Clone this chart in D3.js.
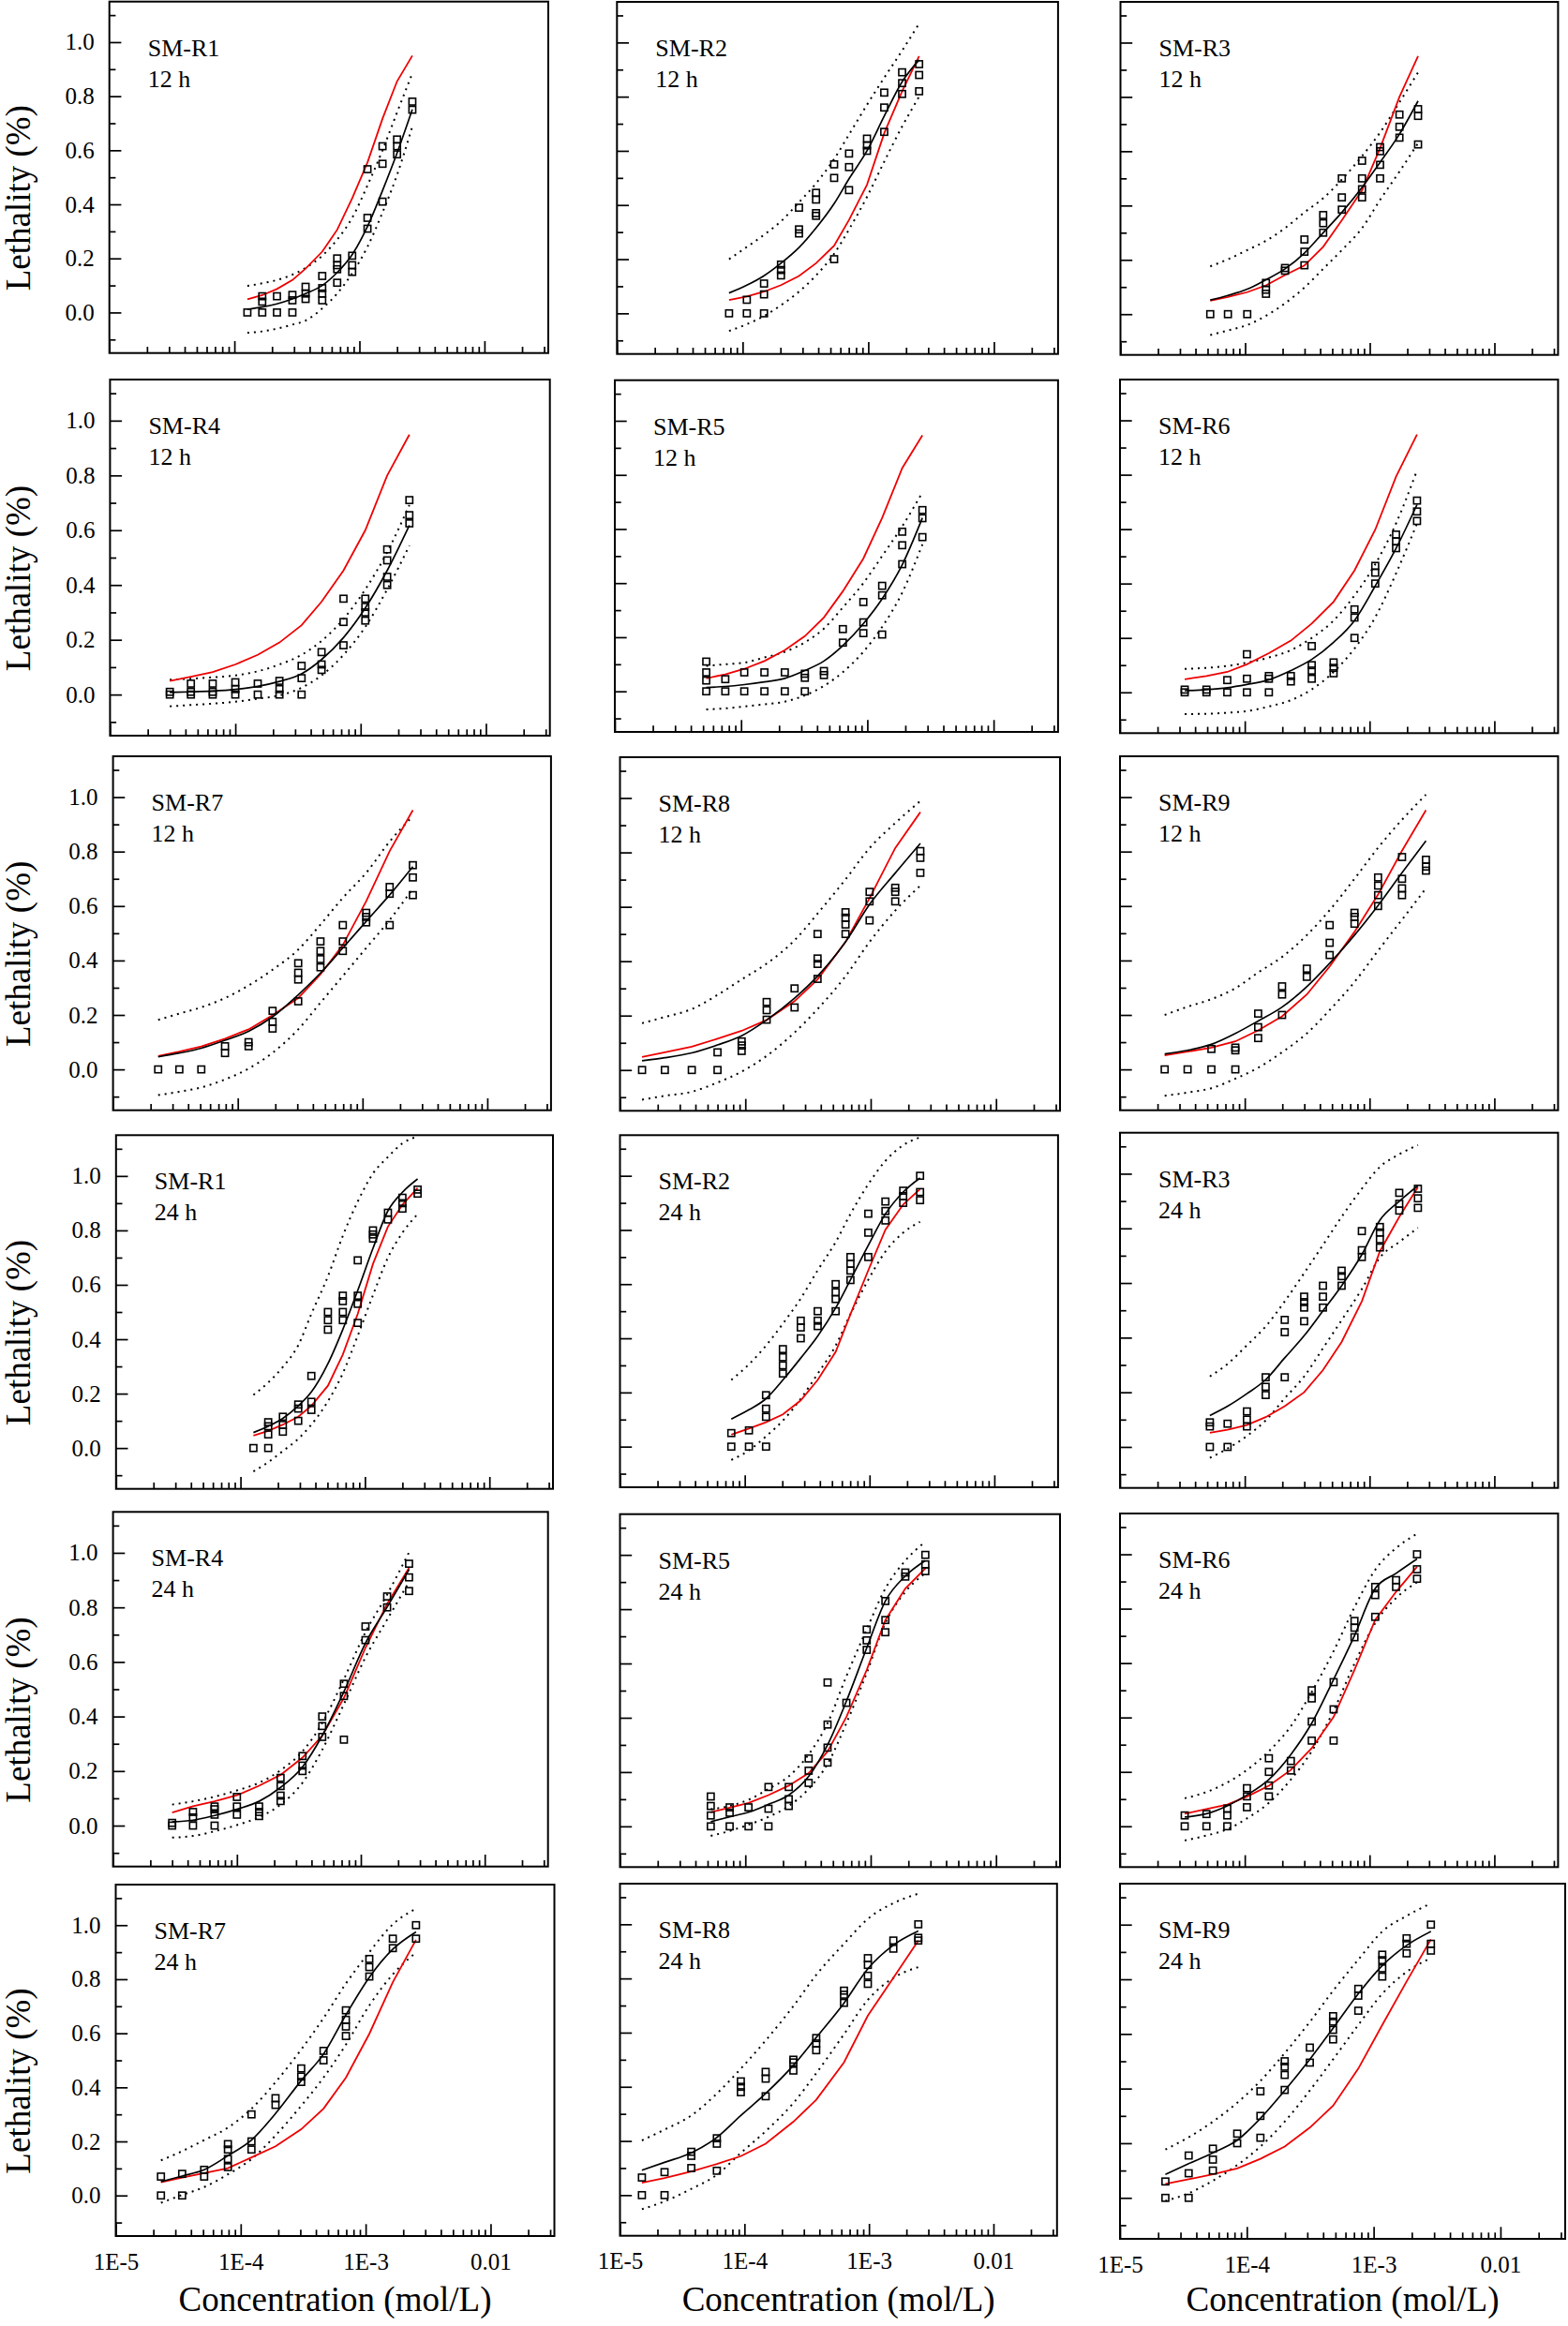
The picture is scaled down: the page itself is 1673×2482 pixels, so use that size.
<!DOCTYPE html>
<html><head><meta charset="utf-8">
<script src="https://cdn.jsdelivr.net/npm/d3@7"></script>
<style>html,body{margin:0;padding:0;background:#fff;} svg{display:block}</style>
</head><body>
<svg id="chart" width="1673" height="2482"></svg>
<script>
// ---------- concentrations (mol/L) for each mixture ----------
const conc_R1 = [1.27e-4,1.67e-4,2.19e-4,2.91e-4,3.71e-4,5.04e-4,6.64e-4,8.75e-4,1.16e-3,1.53e-3,2.0e-3,2.65e-3];
const conc_R2 = [7.8e-5,1.08e-4,1.48e-4,2.02e-4,2.81e-4,3.84e-4,5.35e-4,7.03e-4,9.77e-4,1.34e-3,1.86e-3,2.54e-3];
const conc_R3 = [5.25e-5,7.28e-5,1.04e-4,1.47e-4,2.09e-4,2.99e-4,4.23e-4,5.97e-4,8.67e-4,1.21e-3,1.73e-3,2.44e-3];
const conc_R4 = [3.0e-5,4.42e-5,6.6e-5,1.0e-4,1.51e-4,2.25e-4,3.38e-4,4.88e-4,7.3e-4,1.09e-3,1.63e-3,2.45e-3];
const conc_R5 = [5.3e-5,7.5e-5,1.06e-4,1.53e-4,2.22e-4,3.2e-4,4.53e-4,6.4e-4,9.3e-4,1.31e-3,1.89e-3,2.73e-3];
const conc_R6 = [3.3e-5,4.93e-5,7.24e-5,1.04e-4,1.56e-4,2.34e-4,3.44e-4,5.15e-4,7.57e-4,1.11e-3,1.63e-3,2.40e-3];
const conc_R7 = [2.3e-5,3.4e-5,5.1e-5,7.9e-5,1.22e-4,1.9e-4,3.05e-4,4.6e-4,6.95e-4,1.07e-3,1.65e-3,2.53e-3];
const conc_R8 = [1.5e-5,2.28e-5,3.74e-5,6.0e-5,9.35e-5,1.48e-4,2.47e-4,3.77e-4,6.3e-4,9.8e-4,1.57e-3,2.49e-3];
const conc_R9 = [2.28e-5,3.48e-5,5.4e-5,8.4e-5,1.28e-4,1.99e-4,3.14e-4,4.79e-4,7.57e-4,1.17e-3,1.82e-3,2.83e-3];

// ---------- panel names ----------
const panelMix  = ["R1","R2","R3","R4","R5","R6","R7","R8","R9","R1","R2","R3","R4","R5","R6","R7","R8","R9"];
const panelTime = ["12 h","12 h","12 h","12 h","12 h","12 h","12 h","12 h","12 h","24 h","24 h","24 h","24 h","24 h","24 h","24 h","24 h","24 h"];

// ---------- observed lethality (per concentration) ----------
const obs_R1_12 = [[0],[0,0.04,0.06],[0,0.06],[0,0.045,0.065],[0.05,0.07,0.095],[0.045,0.07,0.09,0.135],[0.11,0.16,0.175,0.2],[0.15,0.175,0.21],[0.31,0.35,0.53],[0.41,0.55,0.615],[0.585,0.615,0.64],[0.75,0.78]];
const obs_R2_12 = [[0],[0,0.05],[0,0.07,0.11],[0.14,0.16,0.18],[0.295,0.31,0.39],[0.36,0.37,0.42,0.445],[0.2,0.5,0.55],[0.455,0.54,0.59],[0.6,0.62,0.645],[0.67,0.76,0.815],[0.81,0.85,0.89],[0.82,0.88,0.92]];
const obs_R3_12 = [[0],[0],[0],[0.075,0.09,0.115],[0.16,0.17],[0.18,0.23,0.275],[0.3,0.335,0.365],[0.385,0.43,0.5],[0.43,0.46,0.5,0.565],[0.5,0.55,0.6,0.615],[0.65,0.69,0.735],[0.625,0.73,0.755]];
const obs_R4_12 = [[0,0.01],[0,0.01,0.04],[0,0.01,0.04],[0,0.02,0.045],[0,0.04],[0,0.02,0.05],[0,0.06,0.105],[0.09,0.11,0.155],[0.18,0.265,0.35],[0.27,0.3,0.32,0.35],[0.4,0.43,0.49,0.53],[0.625,0.655,0.71]];
const obs_R5_12 = [[0,0.04,0.07,0.11],[0,0.045],[0,0.07],[0,0.07],[0,0.07],[0,0.05,0.065],[0.06,0.075],[0.18,0.23],[0.215,0.255,0.33],[0.21,0.355,0.39],[0.47,0.54,0.59],[0.57,0.64,0.67]];
const obs_R6_12 = [[0,0.01],[0,0.01],[0,0.045],[0,0.05,0.14],[0,0.05,0.06],[0.04,0.06],[0.05,0.08,0.1,0.17],[0.07,0.09,0.11],[0.2,0.275,0.305],[0.4,0.44,0.465],[0.53,0.555,0.58],[0.63,0.665,0.705]];
const obs_R7_12 = [[0],[0],[0],[0.06,0.085],[0.085,0.1],[0.15,0.175,0.215],[0.25,0.33,0.355,0.39],[0.375,0.405,0.435,0.47],[0.435,0.47,0.53],[0.54,0.56,0.575],[0.53,0.645,0.67],[0.64,0.705,0.75]];
const obs_R8_12 = [[0],[0],[0],[0,0.065],[0.07,0.09,0.105],[0.185,0.22,0.25],[0.23,0.3],[0.335,0.39,0.41,0.5],[0.5,0.535,0.56,0.58],[0.55,0.62,0.655],[0.62,0.655,0.67],[0.725,0.78,0.805]];
const obs_R9_12 = [[0],[0],[0,0.075],[0,0.07,0.08],[0.115,0.155,0.205],[0.2,0.275,0.305],[0.34,0.37],[0.42,0.465,0.53],[0.535,0.56,0.575],[0.6,0.64,0.675,0.705],[0.64,0.665,0.7,0.78],[0.73,0.745,0.77]];
const obs_R1_24 = [[0],[0,0.05,0.08,0.095],[0.06,0.085,0.115],[0.1,0.145,0.16],[0.14,0.17,0.265],[0.435,0.47,0.5],[0.47,0.5,0.54,0.56],[0.46,0.53,0.56,0.69],[0.77,0.785,0.8],[0.84,0.865],[0.88,0.9,0.92],[0.935,0.95]];
const obs_R2_24 = [[0,0.05],[0,0.06],[0,0.11,0.14,0.19],[0.27,0.3,0.33,0.36],[0.4,0.44,0.465],[0.445,0.465,0.5],[0.5,0.545,0.57,0.6],[0.615,0.65,0.675,0.7],[0.7,0.79,0.86],[0.835,0.87,0.905],[0.9,0.925,0.945],[0.91,0.94,1.0]];
const obs_R3_24 = [[0,0.075,0.09],[0,0.085],[0.075,0.1,0.13],[0.19,0.22,0.255],[0.255,0.42,0.465],[0.46,0.51,0.53,0.55],[0.51,0.55,0.59],[0.59,0.625,0.645],[0.695,0.72,0.79],[0.73,0.76,0.785,0.805],[0.865,0.89,0.93],[0.875,0.91,0.945]];
const obs_R4_24 = [[0,0.01],[0,0.03,0.05],[0,0.04,0.06,0.07],[0.04,0.07,0.105],[0.035,0.05,0.07],[0.09,0.11,0.145,0.175],[0.2,0.22,0.255],[0.325,0.365,0.4],[0.315,0.475,0.52],[0.68,0.73],[0.8,0.84],[0.86,0.91,0.96]];
const obs_R5_24 = [[0,0.04,0.075,0.11],[0,0.05,0.07],[0,0.07],[0,0.065,0.145],[0.075,0.1,0.145],[0.16,0.205,0.25],[0.235,0.29,0.375,0.53],[0.455],[0.65,0.685,0.725],[0.715,0.76,0.83],[0.92,0.935],[0.94,0.965,1.0]];
const obs_R6_24 = [[0,0.04],[0,0.045],[0,0.04,0.065],[0.07,0.11,0.14],[0.11,0.15,0.2,0.25],[0.205,0.24],[0.315,0.385,0.47,0.5],[0.315,0.43,0.53],[0.695,0.73,0.755],[0.77,0.85,0.88],[0.88,0.905],[0.91,0.945,1.0]];
const obs_R7_24 = [[0,0.07],[0,0.08],[0.07,0.095],[0.105,0.135,0.17,0.19],[0.17,0.2,0.3],[0.335,0.36],[0.42,0.44,0.47],[0.5,0.535],[0.59,0.625,0.65,0.685],[0.81,0.845,0.875],[0.915,0.95],[0.95,1.0]];
const obs_R8_24 = [[0,0.065],[0,0.085],[0.1,0.145,0.16],[0.09,0.19,0.21],[0.38,0.4,0.42],[0.365,0.43,0.455],[0.46,0.49,0.5],[0.535,0.56,0.58],[0.71,0.74,0.755],[0.78,0.81,0.85,0.875],[0.91,0.94],[0.94,0.95,1.0]];
const obs_R9_24 = [[0,0.06],[0,0.09,0.155],[0.1,0.14,0.18],[0.2,0.235],[0.22,0.3,0.39],[0.395,0.45,0.48,0.5],[0.495,0.55],[0.58,0.615,0.645,0.665],[0.685,0.74,0.765],[0.81,0.84,0.87,0.89],[0.895,0.93,0.95],[0.905,0.93,1.0]];

// ---------- fitted curve (black) ----------
const fit_R1_12 = [0.012,0.02,0.032,0.05,0.07,0.10,0.148,0.214,0.318,0.451,0.59,0.751];
const fit_R2_12 = [0.075,0.104,0.139,0.185,0.243,0.315,0.405,0.497,0.60,0.728,0.855,0.936];
const fit_R3_12 = [0.052,0.069,0.092,0.127,0.167,0.225,0.3,0.375,0.467,0.559,0.663,0.785];
const fit_R4_12 = [0.008,0.01,0.013,0.019,0.03,0.048,0.076,0.128,0.208,0.316,0.453,0.618];
const fit_R5_12 = [0.014,0.018,0.025,0.035,0.048,0.077,0.112,0.169,0.25,0.342,0.468,0.641];
const fit_R6_12 = [0.006,0.01,0.017,0.029,0.046,0.08,0.121,0.184,0.264,0.391,0.529,0.69];
const fit_R7_12 = [0.046,0.06,0.078,0.107,0.14,0.193,0.274,0.354,0.446,0.544,0.641,0.745];
const fit_R8_12 = [0.034,0.045,0.063,0.092,0.126,0.184,0.264,0.345,0.471,0.609,0.724,0.833];
const fit_R9_12 = [0.057,0.07,0.092,0.132,0.178,0.229,0.304,0.39,0.493,0.602,0.722,0.839];
const fit_R1_24 = [0.057,0.08,0.109,0.155,0.206,0.31,0.436,0.579,0.734,0.872,0.94,0.989];
const fit_R2_24 = [0.102,0.136,0.177,0.246,0.327,0.408,0.512,0.616,0.743,0.859,0.94,0.992];
const fit_R3_24 = [0.115,0.149,0.195,0.246,0.326,0.407,0.498,0.59,0.704,0.83,0.899,0.956];
const fit_R4_24 = [0.014,0.02,0.037,0.06,0.089,0.14,0.215,0.33,0.491,0.669,0.801,0.939];
const fit_R5_24 = [0.017,0.035,0.052,0.081,0.115,0.184,0.3,0.461,0.657,0.83,0.922,0.979];
const fit_R6_24 = [0.034,0.046,0.075,0.115,0.172,0.264,0.379,0.54,0.701,0.874,0.93,0.983];
const fit_R7_24 = [0.051,0.072,0.095,0.147,0.205,0.303,0.425,0.523,0.668,0.807,0.911,0.975];
const fit_R8_24 = [0.092,0.121,0.156,0.213,0.294,0.375,0.479,0.582,0.709,0.836,0.923,0.975];
const fit_R9_24 = [0.086,0.125,0.165,0.211,0.291,0.393,0.507,0.621,0.747,0.85,0.924,0.975];

// ---------- upper confidence band (dotted) ----------
const upr_R1_12 = [0.098,0.108,0.12,0.14,0.165,0.21,0.27,0.35,0.47,0.6,0.74,0.885];
const upr_R2_12 = [0.2,0.245,0.29,0.34,0.41,0.48,0.57,0.66,0.77,0.87,0.97,1.07];
const upr_R3_12 = [0.176,0.202,0.236,0.27,0.317,0.375,0.427,0.496,0.582,0.669,0.78,0.89];
const upr_R4_12 = [0.054,0.058,0.063,0.07,0.085,0.11,0.145,0.196,0.276,0.384,0.52,0.692];
const upr_R5_12 = [0.094,0.1,0.106,0.125,0.146,0.181,0.232,0.31,0.40,0.5,0.61,0.735];
const upr_R6_12 = [0.086,0.09,0.097,0.109,0.128,0.155,0.2,0.264,0.356,0.471,0.621,0.816];
const upr_R7_12 = [0.182,0.205,0.228,0.262,0.308,0.366,0.44,0.532,0.63,0.722,0.837,0.93];
const upr_R8_12 = [0.172,0.195,0.224,0.276,0.333,0.391,0.477,0.575,0.701,0.816,0.908,0.989];
const upr_R9_12 = [0.2,0.23,0.258,0.298,0.356,0.413,0.493,0.585,0.7,0.814,0.917,1.009];
const upr_R1_24 = [0.195,0.241,0.298,0.378,0.493,0.631,0.78,0.906,1.009,1.07,1.12,1.145];
const upr_R2_24 = [0.246,0.304,0.373,0.454,0.547,0.651,0.755,0.859,0.969,1.055,1.113,1.142];
const upr_R3_24 = [0.258,0.304,0.372,0.441,0.533,0.636,0.739,0.842,0.945,1.025,1.071,1.105];
const upr_R4_24 = [0.077,0.089,0.106,0.129,0.157,0.203,0.272,0.376,0.537,0.709,0.847,1.002];
const upr_R5_24 = [0.063,0.075,0.098,0.138,0.184,0.265,0.38,0.553,0.726,0.876,0.979,1.048];
const upr_R6_24 = [0.103,0.126,0.161,0.207,0.276,0.368,0.494,0.644,0.805,0.943,1.023,1.075];
const upr_R7_24 = [0.13,0.164,0.205,0.251,0.321,0.419,0.54,0.656,0.784,0.9,1.003,1.061];
const upr_R8_24 = [0.202,0.242,0.294,0.375,0.467,0.571,0.698,0.813,0.928,1.02,1.078,1.113];
const upr_R9_24 = [0.177,0.222,0.279,0.348,0.428,0.53,0.644,0.758,0.872,0.975,1.032,1.078];

// ---------- lower confidence band (dotted) ----------
const lwr_R1_12 = [-0.075,-0.07,-0.06,-0.045,-0.03,0.015,0.07,0.145,0.243,0.37,0.509,0.688];
const lwr_R2_12 = [-0.065,-0.04,-0.01,0.03,0.08,0.14,0.22,0.31,0.43,0.56,0.69,0.80];
const lwr_R3_12 = [-0.077,-0.06,-0.04,-0.006,0.04,0.098,0.167,0.236,0.317,0.421,0.525,0.63];
const lwr_R4_12 = [-0.043,-0.038,-0.033,-0.026,-0.015,-0.003,0.025,0.07,0.145,0.247,0.384,0.544];
const lwr_R5_12 = [-0.067,-0.063,-0.056,-0.048,-0.038,-0.015,0.02,0.071,0.146,0.238,0.365,0.543];
const lwr_R6_12 = [-0.08,-0.079,-0.075,-0.069,-0.052,-0.029,0.011,0.075,0.161,0.276,0.437,0.621];
const lwr_R7_12 = [-0.094,-0.082,-0.066,-0.037,0.003,0.061,0.147,0.245,0.343,0.446,0.549,0.664];
const lwr_R8_12 = [-0.109,-0.095,-0.08,-0.046,-0.006,0.052,0.138,0.224,0.345,0.471,0.586,0.678];
const lwr_R9_12 = [-0.097,-0.085,-0.069,-0.034,0.006,0.063,0.132,0.218,0.321,0.436,0.55,0.665];
const lwr_R1_24 = [-0.086,-0.052,-0.011,0.034,0.086,0.172,0.275,0.413,0.562,0.7,0.791,0.86];
const lwr_R2_24 = [-0.049,-0.014,0.038,0.096,0.177,0.269,0.373,0.489,0.616,0.72,0.79,0.83];
const lwr_R3_24 = [-0.04,-0.006,0.04,0.097,0.178,0.258,0.361,0.464,0.578,0.693,0.75,0.802];
const lwr_R4_24 = [-0.044,-0.038,-0.021,0.002,0.031,0.077,0.157,0.278,0.445,0.617,0.755,0.893];
const lwr_R5_24 = [-0.035,-0.017,0.006,0.035,0.075,0.138,0.23,0.38,0.565,0.749,0.864,0.933];
const lwr_R6_24 = [-0.052,-0.034,-0.011,0.029,0.086,0.172,0.276,0.425,0.598,0.747,0.839,0.897];
const lwr_R7_24 = [-0.027,0.002,0.031,0.078,0.135,0.222,0.332,0.436,0.558,0.703,0.818,0.899];
const lwr_R8_24 = [-0.052,-0.023,0.023,0.075,0.156,0.236,0.34,0.45,0.594,0.721,0.802,0.842];
const lwr_R9_24 = [-0.011,0.017,0.063,0.12,0.188,0.279,0.393,0.507,0.633,0.747,0.827,0.878];

// ---------- predicted curve (red) ----------
const ref_R1_12 = [0.049,0.064,0.087,0.12,0.162,0.225,0.306,0.422,0.555,0.717,0.855,0.95];
const ref_R2_12 = [0.049,0.062,0.08,0.104,0.138,0.185,0.25,0.345,0.475,0.665,0.82,0.95];
const ref_R3_12 = [0.05,0.063,0.081,0.106,0.144,0.179,0.248,0.346,0.456,0.611,0.80,0.95];
const ref_R4_12 = [0.05,0.065,0.082,0.11,0.145,0.19,0.253,0.339,0.453,0.6,0.8,0.949];
const ref_R5_12 = [0.048,0.063,0.083,0.112,0.152,0.204,0.273,0.37,0.491,0.641,0.825,0.946];
const ref_R6_12 = [0.048,0.06,0.075,0.103,0.144,0.19,0.253,0.333,0.448,0.598,0.793,0.948];
const ref_R7_12 = [0.049,0.065,0.084,0.113,0.147,0.199,0.262,0.349,0.457,0.618,0.802,0.952];
const ref_R8_12 = [0.048,0.065,0.086,0.115,0.144,0.184,0.253,0.333,0.471,0.632,0.816,0.948];
const ref_R9_12 = [0.052,0.065,0.08,0.103,0.143,0.195,0.275,0.378,0.505,0.642,0.803,0.952];
const ref_R1_24 = [0.046,0.063,0.086,0.115,0.155,0.229,0.344,0.493,0.677,0.814,0.894,0.956];
const ref_R2_24 = [0.044,0.067,0.09,0.119,0.171,0.246,0.35,0.489,0.651,0.801,0.894,0.951];
const ref_R3_24 = [0.052,0.063,0.08,0.109,0.149,0.2,0.281,0.384,0.533,0.716,0.842,0.951];
const ref_R4_24 = [0.048,0.071,0.089,0.111,0.146,0.186,0.249,0.33,0.468,0.652,0.813,0.945];
const ref_R5_24 = [0.052,0.069,0.086,0.115,0.15,0.196,0.276,0.403,0.576,0.76,0.876,0.95];
const ref_R6_24 = [0.046,0.063,0.08,0.109,0.149,0.207,0.287,0.402,0.575,0.759,0.862,0.954];
const ref_R7_24 = [0.049,0.066,0.083,0.101,0.141,0.182,0.245,0.321,0.436,0.598,0.789,0.946];
const ref_R8_24 = [0.046,0.063,0.087,0.115,0.144,0.19,0.271,0.352,0.49,0.663,0.802,0.94];
const ref_R9_24 = [0.051,0.068,0.086,0.108,0.143,0.188,0.257,0.337,0.473,0.633,0.792,0.946];

// ---------- axes ----------
const xMajorTicks = [1e-5,1e-4,1e-3,1e-2];
const xTickLabels = ["1E-5","1E-4","1E-3","0.01"];
const xMinorTicks = [2e-5,3e-5,4e-5,5e-5,6e-5,7e-5,8e-5,9e-5,2e-4,3e-4,4e-4,5e-4,6e-4,7e-4,8e-4,9e-4,2e-3,3e-3,4e-3,5e-3,6e-3,7e-3,8e-3,9e-3,2e-2,3e-2];
const yMajorTicks = [0,0.2,0.4,0.6,0.8,1.0];
const yMinorTicks = [-0.1,0.1,0.3,0.5,0.7,0.9,1.1];
const xDomain = [1e-5, 0.0324];
const yDomain = [-0.15, 1.15];
const xTitle = "Concentration (mol/L)";
const yTitle = "Lethality (%)";

// ---------- layout (panel frames: left, right, top, bottom) ----------
const frames = [
  [116.7,585,1.7,376.7],[658.3,1128.9,2,377.7],[1195.5,1662.4,2,378.7],
  [117.4,586.7,405,785],[656,1128.9,405.7,781],[1195,1662.4,405,782.3],
  [120.6,587.9,807,1184.7],[661.5,1131,808,1185.3],[1195,1662.4,807,1184.7],
  [123.8,590,1211.3,1588.7],[661.5,1128.9,1211.3,1587],[1195,1662.4,1208.7,1587.7],
  [120.6,584.7,1613.3,1991.7],[661.5,1131,1615.7,1992.3],[1195,1662.4,1615,1992.3],
  [123.5,591.5,2011,2386],[661.5,1127.8,2010,2385.7],[1195,1670,2010,2389]
];

// ---------- build tables ----------
const concByMix = {R1:conc_R1,R2:conc_R2,R3:conc_R3,R4:conc_R4,R5:conc_R5,R6:conc_R6,R7:conc_R7,R8:conc_R8,R9:conc_R9};
const seriesTable = {
  obs_R1_12,obs_R2_12,obs_R3_12,obs_R4_12,obs_R5_12,obs_R6_12,obs_R7_12,obs_R8_12,obs_R9_12,
  obs_R1_24,obs_R2_24,obs_R3_24,obs_R4_24,obs_R5_24,obs_R6_24,obs_R7_24,obs_R8_24,obs_R9_24,
  fit_R1_12,fit_R2_12,fit_R3_12,fit_R4_12,fit_R5_12,fit_R6_12,fit_R7_12,fit_R8_12,fit_R9_12,
  fit_R1_24,fit_R2_24,fit_R3_24,fit_R4_24,fit_R5_24,fit_R6_24,fit_R7_24,fit_R8_24,fit_R9_24,
  upr_R1_12,upr_R2_12,upr_R3_12,upr_R4_12,upr_R5_12,upr_R6_12,upr_R7_12,upr_R8_12,upr_R9_12,
  upr_R1_24,upr_R2_24,upr_R3_24,upr_R4_24,upr_R5_24,upr_R6_24,upr_R7_24,upr_R8_24,upr_R9_24,
  lwr_R1_12,lwr_R2_12,lwr_R3_12,lwr_R4_12,lwr_R5_12,lwr_R6_12,lwr_R7_12,lwr_R8_12,lwr_R9_12,
  lwr_R1_24,lwr_R2_24,lwr_R3_24,lwr_R4_24,lwr_R5_24,lwr_R6_24,lwr_R7_24,lwr_R8_24,lwr_R9_24,
  ref_R1_12,ref_R2_12,ref_R3_12,ref_R4_12,ref_R5_12,ref_R6_12,ref_R7_12,ref_R8_12,ref_R9_12,
  ref_R1_24,ref_R2_24,ref_R3_24,ref_R4_24,ref_R5_24,ref_R6_24,ref_R7_24,ref_R8_24,ref_R9_24
};
const panels = panelMix.map((m,i)=>{
  const t = panelTime[i].startsWith("12") ? "12" : "24";
  const key = m + "_" + t;
  return {mix:m, time:panelTime[i], conc:concByMix[m],
    obs:seriesTable["obs_"+key], fit:seriesTable["fit_"+key], upr:seriesTable["upr_"+key],
    lwr:seriesTable["lwr_"+key], ref:seriesTable["ref_"+key]};
});

// ---------- draw ----------
const FONT = '"Liberation Serif","Times New Roman",Times,serif';
const svg = d3.select("#chart");
svg.append("rect").attr("width",1673).attr("height",2482).attr("fill","#fff");
const defs = svg.append("defs");

panels.forEach((p,i)=>{
  const [L,R,T,B] = frames[i];
  const col = i % 3, row = Math.floor(i/3);
  const x = d3.scaleLog().domain(xDomain).range([L,R]);
  const y = d3.scaleLinear().domain(yDomain).range([B,T]);
  const cid = "clip"+i;
  defs.append("clipPath").attr("id",cid).append("rect")
    .attr("x",L).attr("y",T).attr("width",R-L).attr("height",B-T);
  const g = svg.append("g");
  const plot = g.append("g").attr("clip-path",`url(#${cid})`);

  const smooth = d3.line().x((d,j)=>x(p.conc[j])).y(d=>y(d)).curve(d3.curveMonotoneX);
  const straight = d3.line().x((d,j)=>x(p.conc[j])).y(d=>y(d));

  // confidence bands
  [p.upr,p.lwr].forEach(s=>{
    plot.append("path").attr("d",smooth(s)).attr("fill","none")
      .attr("stroke","#000").attr("stroke-width",2).attr("stroke-dasharray","2 5");
  });
  // predicted (red)
  plot.append("path").attr("d",straight(p.ref)).attr("fill","none")
    .attr("stroke","#ee0000").attr("stroke-width",1.8);
  // fitted (black)
  plot.append("path").attr("d",smooth(p.fit)).attr("fill","none")
    .attr("stroke","#000").attr("stroke-width",1.7);
  // observations
  const pts = [];
  p.obs.forEach((vals,j)=>vals.forEach(v=>pts.push({c:p.conc[j],v})));
  plot.selectAll("rect.pt").data(pts).enter().append("rect").attr("class","pt")
    .attr("x",d=>x(d.c)-3.6).attr("y",d=>y(d.v)-3.6)
    .attr("width",7.2).attr("height",7.2)
    .attr("fill","none").attr("stroke","#000").attr("stroke-width",1.6);

  // axes (ticks point inward)
  const yMaj = d3.axisLeft(y).tickValues(yMajorTicks).tickSize(-12.7).tickPadding(16)
    .tickFormat(col===0 ? d3.format(".1f") : ()=>"");
  const yMin = d3.axisLeft(y).tickValues(yMinorTicks).tickSize(-6.7).tickFormat(()=>"");
  const xMaj = d3.axisBottom(x).tickValues(xMajorTicks).tickSize(-12.7).tickPadding(18)
    .tickFormat((d,k)=> row===5 ? xTickLabels[k] : "");
  const xMin = d3.axisBottom(x).tickValues(xMinorTicks).tickSize(-6.7).tickFormat(()=>"");
  [[yMaj,`translate(${L},0)`],[yMin,`translate(${L},0)`],[xMaj,`translate(0,${B})`],[xMin,`translate(0,${B})`]]
    .forEach(([ax,tr])=>{
      const a = g.append("g").attr("transform",tr).call(ax);
      a.select(".domain").remove();
      a.selectAll("line").attr("stroke-width",1.7);
      a.selectAll("text").attr("font-family",FONT).attr("font-size",25).attr("fill","#000");
    });

  // frame
  g.append("rect").attr("x",L).attr("y",T).attr("width",R-L).attr("height",B-T)
    .attr("fill","none").attr("stroke","#000").attr("stroke-width",2);

  // panel labels
  g.append("text").attr("x",L+41).attr("y",T+58).text("SM-"+p.mix)
    .attr("font-family",FONT).attr("font-size",26).attr("fill","#000");
  g.append("text").attr("x",L+41).attr("y",T+91).text(p.time)
    .attr("font-family",FONT).attr("font-size",26).attr("fill","#000");

  // titles
  if (col===0) {
    g.append("text").attr("transform",`translate(32,${(T+B)/2+22}) rotate(-90)`)
      .attr("text-anchor","middle").text(yTitle)
      .attr("font-family",FONT).attr("font-size",37).attr("fill","#000");
  }
  if (row===5) {
    g.append("text").attr("x",(L+R)/2).attr("y",2466).attr("text-anchor","middle").text(xTitle)
      .attr("font-family",FONT).attr("font-size",37).attr("fill","#000");
  }
});
</script>
</body></html>
